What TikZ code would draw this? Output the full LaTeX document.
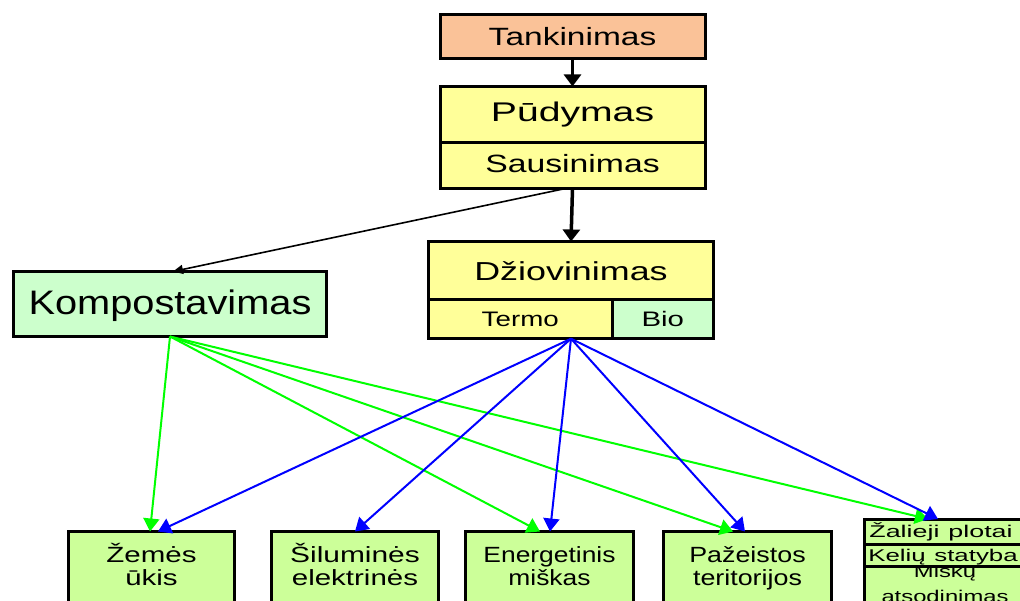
\documentclass[tikz,border=0pt]{standalone}
\usepackage{fontspec}
\setmainfont{Liberation Sans}
\usepackage{graphicx}
\usetikzlibrary{arrows.meta,fit,calc}

\definecolor{peach}{RGB}{250,194,152}
\definecolor{paleyellow}{RGB}{255,255,153}
\definecolor{mint}{RGB}{204,255,204}
\definecolor{lime}{RGB}{204,255,153}
\definecolor{arrowgreen}{RGB}{0,255,0}
\definecolor{arrowblue}{RGB}{0,0,255}

% horizontally widened text
\newcommand{\wide}[2]{\scalebox{#1}[1]{#2}}

\begin{document}
\begin{tikzpicture}[x=1pt,y=-1pt,
  box/.style={draw=black, line width=3pt, inner sep=0pt, outer sep=0pt, text depth=0pt},
  fs/.style 2 args={font=\fontsize{#1}{#2}\selectfont},
  boxtext/.style={inner sep=0pt, align=center, text width=165pt},
  flow/.style={draw=black, line width=3.5pt, -{Triangle[length=12pt,width=17pt]}},
  thinflow/.style={draw=black, line width=1.6pt, -{Triangle[length=10pt,width=9pt]}},
  gflow/.style={draw=arrowgreen, line width=2pt, -{Triangle[length=13pt,width=16pt]}},
  bflow/.style={draw=arrowblue, line width=2pt, -{Triangle[length=13pt,width=16pt]}},
]
\fill[white] (0,0) rectangle (1020,601);
\useasboundingbox (0,0) rectangle (1020,601);
\clip (0,0) rectangle (1020,601);

% upper chain
\node[box, fill=peach, minimum width=265pt, minimum height=44pt, fs={25}{28}, text height=18pt]
  (tank) at (572.5,36.5) {\wide{1.34}{Tankinimas}};
\node[box, fill=paleyellow, minimum width=265pt, minimum height=56pt, fs={27}{30}, text height=19.3pt, text depth=5pt]
  (pud) at (572.5,114.5) {\wide{1.45}{Pūdymas}};
\node[box, fill=paleyellow, minimum width=265pt, minimum height=46pt, fs={25}{28}, text height=18pt, text depth=3pt]
  (saus) at (572.5,165.5) {\wide{1.35}{Sausinimas}};

% drying block
\node[box, fill=paleyellow, minimum width=285pt, minimum height=58.5pt, fs={26}{29}, text height=18.6pt]
  (dziov) at (571,270.75) {\wide{1.38}{Džiovinimas}};
\node[box, fill=paleyellow, minimum width=183.5pt, minimum height=38.5pt, fs={21}{24}, text height=15pt]
  (termo) at (520.25,319.25) {\wide{1.32}{Termo}};
\node[box, fill=mint, minimum width=101.5pt, minimum height=38.5pt, fs={21}{24}, text height=15pt]
  (bio) at (662.75,319.25) {\wide{1.4}{Bio}};
\node[fit=(dziov)(termo)(bio), inner sep=0pt] (dgroup) {};

% composting
\node[box, fill=mint, minimum width=313pt, minimum height=65pt, fs={34}{38}, text height=24.4pt, text depth=3pt]
  (komp) at (170,304) {\wide{1.17}{Kompostavimas}};

% uses
\node[box, fill=lime, minimum width=166pt, minimum height=110pt, anchor=north] (zemes) at (151.5,531.5) {};
\node[box, fill=lime, minimum width=167pt, minimum height=110pt, anchor=north] (silum) at (355,531.5) {};
\node[box, fill=lime, minimum width=168pt, minimum height=110pt, anchor=north] (energ) at (549.5,531.5) {};
\node[box, fill=lime, minimum width=168pt, minimum height=110pt, anchor=north] (pazeist) at (747.5,531.5) {};

\node[boxtext, fs={22}{23}, anchor=base] (zemesT) at (151.5,562) {\wide{1.34}{Žemės}\\\wide{1.34}{ūkis}};
\node[boxtext, fs={22}{23}, anchor=base] (silumT) at (355,562) {\wide{1.36}{Šiluminės}\\\wide{1.34}{elektrinės}};
\node[boxtext, fs={22}{23}, anchor=base] (energT) at (549.5,562) {\wide{1.2}{Energetinis}\\\wide{1.2}{miškas}};
\node[boxtext, fs={22}{23}, anchor=base] (pazeistT) at (747.5,562) {\wide{1.22}{Pažeistos}\\\wide{1.22}{teritorijos}};

% stacked list on the right
\node[box, fill=lime, minimum width=175pt, minimum height=80pt, anchor=north west] (miskai) at (864,566) {};
\node[boxtext, fs={17}{25}, anchor=base] (miskaiT) at (945,577) {\wide{1.4}{Miškų}\\\wide{1.4}{atsodinimas}};
\node[box, fill=lime, minimum width=175pt, minimum height=21.5pt, anchor=north west] (kelias) at (864,544.5) {};
\node[box, fill=lime, minimum width=175pt, minimum height=25.5pt, anchor=north west] (zalieji) at (864,519) {};
\node[boxtext, fs={17}{20}, anchor=base] (zaliejiT) at (941,537) {\wide{1.58}{Žalieji plotai}};
\node[boxtext, fs={17}{20}, anchor=base] (keliasT) at (943,561) {\wide{1.52}{Kelių statyba}};

% black flow
\draw[flow] (tank.south) -- (pud.north);
\draw[flow] (saus.south) -- (dziov.north);
\draw[thinflow] ($(saus.south)+(-7,0)$) -- ($(komp.north)+(3,0)$);

% compost outputs
\draw[gflow] (komp.south) -- ($(zemes.north)+(-1.5,0)$);
\draw[gflow] (komp.south) -- ($(energ.north)+(-9.5,0)$);
\draw[gflow] (komp.south) -- ($(pazeist.north)+(-14.5,0)$);
\draw[gflow] (komp.south) -- ($(zalieji.north west)+(64,0)$);

% dried sludge outputs
\draw[bflow] (dgroup.south) -- ($(zemes.north)+(6.5,0)$);
\draw[bflow] (dgroup.south) -- (silum.north);
\draw[bflow] (dgroup.south) -- ($(energ.north)+(0.5,0)$);
\draw[bflow] (dgroup.south) -- ($(pazeist.north)+(-2.5,0)$);
\draw[bflow] (dgroup.south) -- ($(zalieji.north west)+(74,0)$);
\end{tikzpicture}
\end{document}
